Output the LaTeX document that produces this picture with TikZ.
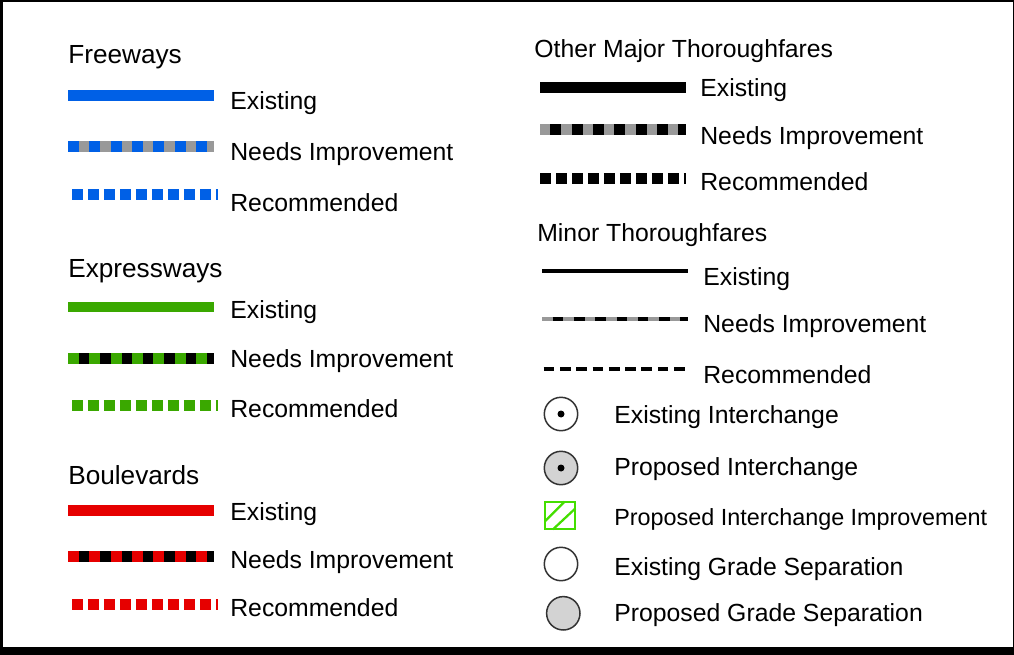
\documentclass[tikz,border=0pt]{standalone}
\usepackage{fontspec}
\setmainfont{Liberation Sans}
\usetikzlibrary{positioning}
\definecolor{fwblue}{RGB}{0,96,230}
\definecolor{exgreen}{RGB}{58,168,0}
\definecolor{blvred}{RGB}{230,0,0}
\definecolor{midgray}{RGB}{153,153,153}
\definecolor{ringgray}{RGB}{211,211,211}
\definecolor{hatchgreen}{RGB}{68,222,0}

\begin{document}
\begin{tikzpicture}[x=0.02cm,y=-0.02cm,
  lbl/.style={anchor=base west,inner sep=0pt,font=\fontsize{14.1}{17}\selectfont},
  headlbl/.style={anchor=base west,inner sep=0pt,font=\fontsize{14.9}{18}\selectfont},
  smalllbl/.style={anchor=base west,inner sep=0pt,font=\fontsize{13.3}{16}\selectfont},
  wide/.style={line width=0.22cm},
  slim/.style={line width=0.08cm},
  checker/.style={dash pattern=on 0.22cm off 0.2067cm},
  dotted road/.style={dash pattern=on 0.22cm off 0.1cm},
  ring/.style={circle,draw=black!80,line width=0.03cm,minimum size=0.668cm,inner sep=0pt}]
\useasboundingbox (0,0) rectangle (1014,655);
\fill[black] (0,0) rectangle (1014,655);
\fill[white] (3,2) rectangle (1012.5,647);

% freeways
\node[headlbl] (fwhead) at (68,63.5) {Freeways};
\draw[wide,fwblue] (68,95.5) -- (214,95.5);
\node[lbl] (fwex) at (230,110) {Existing};
\draw[wide,midgray] (68,147) -- (214,147);
\draw[wide,fwblue,checker] (68,147) -- (214,147);
\node[lbl] (fwni) at (230,161) {Needs Improvement};
\draw[wide,fwblue,dotted road] (72,194.5) -- (218,194.5);
\node[lbl] (fwrec) at (230,212) {Recommended};

% expressways
\node[headlbl] (exhead) at (68,277.5) {Expressways};
\draw[wide,exgreen] (68,307) -- (214,307);
\node[lbl] (exex) at (230,318) {Existing};
\draw[wide,black] (68,358) -- (214,358);
\draw[wide,exgreen,checker] (68,358) -- (214,358);
\node[lbl] (exni) at (230,367) {Needs Improvement};
\draw[wide,exgreen,dotted road] (72,405.5) -- (218,405.5);
\node[lbl] (exrec) at (230,417) {Recommended};

% boulevards
\node[headlbl] (blhead) at (68,484.5) {Boulevards};
\draw[wide,blvred] (68,510.7) -- (214,510.7);
\node[lbl] (blex) at (230,520) {Existing};
\draw[wide,black] (68,556) -- (214,556);
\draw[wide,blvred,checker] (68,556) -- (214,556);
\node[lbl] (blni) at (230,568) {Needs Improvement};
\draw[wide,blvred,dotted road] (72,604.7) -- (218,604.7);
\node[lbl] (blrec) at (230,616) {Recommended};

% other major thoroughfares
\node[lbl] (omhead) at (534,58) {Other Major Thoroughfares};
\draw[wide,black] (540,88) -- (686,88);
\node[lbl] (omex) at (700,97) {Existing};
\draw[wide,midgray] (540,130) -- (686,130);
\draw[wide,black,checker,dash phase=0.22cm] (540,130) -- (686,130);
\node[lbl] (omni) at (700,145) {Needs Improvement};
\draw[wide,black,dotted road] (540,178.5) -- (686,178.5);
\node[lbl] (omrec) at (700,191) {Recommended};

% minor thoroughfares
\node[lbl] (mnhead) at (537,242) {Minor Thoroughfares};
\draw[slim,black] (542,271) -- (688,271);
\node[lbl] (mnex) at (703,285) {Existing};
\draw[slim,midgray] (542,318.7) -- (688,318.7);
\draw[slim,black,dash pattern=on 0.213cm off 0.213cm,dash phase=0.213cm] (542,318.7) -- (688,318.7);
\node[lbl] (mnni) at (703,332) {Needs Improvement};
\draw[slim,black,dash pattern=on 0.213cm off 0.113cm] (543.7,369.3) -- (690,369.3);
\node[lbl] (mnrec) at (703,383) {Recommended};

% interchanges and grade separations
\node[ring,fill=white] (exint) at (561,414) {};
\fill (exint.center) circle (0.07cm);
\node[lbl] (exintlbl) at (614,423) {Existing Interchange};
\node[ring,fill=ringgray] (print) at (561,468) {};
\fill (print.center) circle (0.07cm);
\node[lbl] (printlbl) at (614,475) {Proposed Interchange};
\draw[hatchgreen,line width=0.045cm] (545.3,501.7) rectangle (575.3,529.3);
\draw[hatchgreen,line width=0.045cm] (545.3,521) -- (564.5,501.7);
\draw[hatchgreen,line width=0.045cm] (553,529.3) -- (575.3,508.5);
\node[smalllbl] (impslbl) at (614,525.4) {Proposed Interchange Improvement};
\node[ring,fill=white] (exgs) at (561,564) {};
\node[lbl] (exgslbl) at (614,575) {Existing Grade Separation};
\node[ring,fill=ringgray] (prgs) at (563.3,613.3) {};
\node[lbl] (prgslbl) at (614,621) {Proposed Grade Separation};
\end{tikzpicture}
\end{document}
